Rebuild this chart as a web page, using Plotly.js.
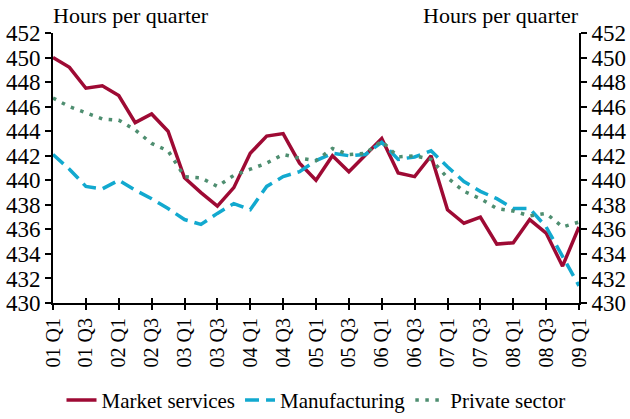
<!DOCTYPE html>
<html><head><meta charset="utf-8">
<script src="https://cdn.plot.ly/plotly-3.0.1.min.js"></script>
<style>html,body{margin:0;padding:0;background:#fff}#chart{width:630px;height:419px}</style>
</head><body><div id="chart"></div>
<script>
const quarters = [];
for (let y = 1; y <= 9; y++) { for (let q = 1; q <= 4; q++) { if (y === 9 && q > 1) break; quarters.push('0' + y + ' Q' + q); } }
const tickLabels = ['01 Q1','01 Q3','02 Q1','02 Q3','03 Q1','03 Q3','04 Q1','04 Q3','05 Q1','05 Q3','06 Q1','06 Q3','07 Q1','07 Q3','08 Q1','08 Q3','09 Q1'];
const marketServices = [450.0,449.2,447.5,447.7,446.9,444.7,445.4,444.0,440.2,439.0,437.9,439.4,442.2,443.6,443.8,441.4,440.0,442.0,440.7,442.1,443.4,440.6,440.3,442.0,437.6,436.5,437.0,434.8,434.9,436.8,435.7,433.0,436.2];
const manufacturing = [442.1,440.9,439.5,439.3,440.0,439.2,438.5,437.7,436.8,436.4,437.3,438.1,437.6,439.5,440.3,440.7,441.6,442.2,442.0,442.1,443.1,441.7,441.9,442.4,441.1,439.9,439.1,438.5,437.7,437.7,436.2,433.8,431.4];
const privateSector = [446.7,446.0,445.5,445.0,444.9,444.1,443.0,442.4,440.3,440.2,439.5,440.4,440.9,441.4,442.1,441.8,441.6,442.6,442.1,442.2,443.2,441.9,442.0,441.7,440.2,439.1,438.5,437.7,437.5,437.1,437.3,436.2,436.6];
const yTicks = [430,432,434,436,438,440,442,444,446,448,450,452];

const font = {family: '"Liberation Serif", "DejaVu Serif", serif', color: '#000'};
const traces = [
  {x: quarters, y: marketServices, name: 'Market services', type: 'scatter', mode: 'lines', line: {color: '#9E0A34', width: 3.5}},
  {x: quarters, y: manufacturing, name: 'Manufacturing', type: 'scatter', mode: 'lines', line: {color: '#12A9CF', width: 3.5, dash: '14px,7px'}},
  {x: quarters, y: privateSector, name: 'Private sector', type: 'scatter', mode: 'lines', line: {color: '#4E8E70', width: 3.5, dash: '3.5px,6.5px'}}
];
const axisY = {range: [430, 452], tickvals: yTicks, ticks: 'outside', ticklen: 6, tickwidth: 2, tickcolor: '#000', showline: true, linecolor: '#000', linewidth: 2, showgrid: false, zeroline: false, automargin: false, tickfont: Object.assign({size: 23}, font), fixedrange: true};
const layout = {
  width: 630, height: 419,
  margin: {l: 53, r: 51, t: 33, b: 116, autoexpand: false},
  paper_bgcolor: '#fff', plot_bgcolor: '#fff',
  font: font,
  showlegend: true,
  legend: {orientation: 'h', x: 0.5, xanchor: 'center', y: -0.285, yanchor: 'top', font: Object.assign({size: 21}, font), itemwidth: 30, tracegroupgap: 0, traceorder: 'normal'},
  xaxis: {type: 'category', categoryarray: quarters, range: [0, 32], tickvals: tickLabels, ticktext: tickLabels, tickangle: -90, ticks: 'outside', ticklen: 5, tickwidth: 2, tickcolor: '#000', showline: true, linecolor: '#000', linewidth: 2, showgrid: false, zeroline: false, automargin: false, tickfont: Object.assign({size: 20}, font)},
  xaxis2: {type: 'category', categoryarray: quarters, overlaying: 'x', matches: 'x', range: [0, 32], tickvals: tickLabels, ticks: 'inside', ticklen: 5, tickwidth: 2, tickcolor: '#000', showticklabels: false, showline: false, showgrid: false, zeroline: false, automargin: false, anchor: 'y'},
  yaxis: Object.assign({side: 'left'}, axisY),
  yaxis2: Object.assign({side: 'right', overlaying: 'y', anchor: 'x', matches: 'y'}, axisY),
  annotations: [
    {text: 'Hours per quarter', xref: 'paper', yref: 'paper', x: 0, xanchor: 'left', y: 1, yanchor: 'bottom', yshift: 3, xshift: -2, showarrow: false, font: Object.assign({size: 22}, font)},
    {text: 'Hours per quarter', xref: 'paper', yref: 'paper', x: 1, xanchor: 'right', y: 1, yanchor: 'bottom', yshift: 3, xshift: 2, showarrow: false, font: Object.assign({size: 22}, font)}
  ]
};
traces.push({x: [quarters[0]], y: [null], xaxis: 'x2', yaxis: 'y2', showlegend: false, hoverinfo: 'skip', mode: 'lines'});
Plotly.newPlot('chart', traces, layout, {staticPlot: true, displayModeBar: false});
</script></body></html>
